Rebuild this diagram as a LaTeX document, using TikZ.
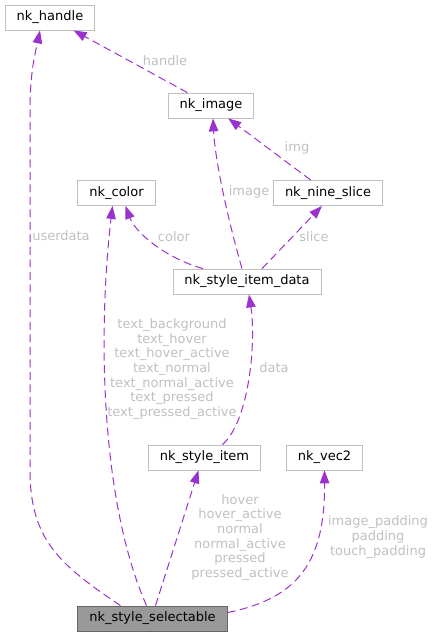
\documentclass[tikz,border=0pt]{standalone}
\usepackage{fontspec}
\setmainfont{DejaVu Sans}
\usetikzlibrary{arrows.meta}
\definecolor{edgePurple}{HTML}{9A32CD}
\definecolor{boxGrey}{HTML}{BFBFBF}
\definecolor{lblGrey}{HTML}{C0C0C0}
\definecolor{focusFill}{HTML}{999999}
\definecolor{focusLine}{HTML}{666666}

\begin{document}
\begin{tikzpicture}[
    x=1pt,y=-1pt,
    box/.style={draw=boxGrey,fill=white,line width=0.8pt,minimum height=25pt,inner xsep=11.5pt,font=\fontsize{13}{15}\selectfont},
    focus/.style={box,draw=focusLine,fill=focusFill},
    lbl/.style={text=lblGrey,align=center,inner sep=0pt,font=\fontsize{13}{14.7}\selectfont},
    arrow/.style={edgePurple,line width=1pt,dash pattern=on 8pt off 4.5pt,-{Triangle[length=13pt,width=9.5pt]}}
  ]
    \useasboundingbox (0,0) rectangle (435,637);
    % classes
    \node[box] (handle) at (50,17.5) {nk\_handle};
    \node[box] (image) at (211,105.5) {nk\_image};
    \node[box] (color) at (116.5,193) {nk\_color};
    \node[box] (nineslice) at (328,193) {nk\_nine\_slice};
    \node[box] (itemdata) at (247,281.5) {nk\_style\_item\_data};
    \node[box] (item) at (204.5,457.5) {nk\_style\_item};
    \node[box] (vec) at (324.5,457.5) {nk\_vec2};
    \node[focus] (selectable) at (152.5,618.5) {nk\_style\_selectable};
    % members
    \draw[arrow] (image) -- (handle);
    \draw[arrow] (nineslice) -- (image);
    \draw[arrow] ([xshift=-5pt]itemdata.north) .. controls (228,220) and (215,160) .. ([xshift=2pt]image.south);
    \draw[arrow] ([xshift=-44pt]itemdata.north) .. controls (165,258) and (135,232) .. ([xshift=9pt]color.south);
    \draw[arrow] ([xshift=15pt]itemdata.north) -- ([xshift=-6pt]nineslice.south);
    \draw[arrow] ([xshift=18pt]item.north) .. controls (250,420) and (256,340) .. ([xshift=2pt]itemdata.south);
    \draw[arrow] ([xshift=-32pt]selectable.north) .. controls (60,565) and (30,540) .. (30,470)
      -- (30,110) .. controls (30,70) and (36,50) .. ([xshift=-10pt]handle.south);
    \draw[arrow] ([xshift=-6pt]selectable.north) .. controls (100,500) and (98,330) .. ([xshift=-4pt]color.south);
    \draw[arrow] ([xshift=3pt]selectable.north) -- ([xshift=-6pt]item.south);
    \draw[arrow] ([yshift=6pt]selectable.east) .. controls (300,598) and (325,560) .. (vec.south);
    % labels
    \node[lbl] (lhandle) at (165,61) {handle};
    \node[lbl] (limg) at (297,148) {img};
    \node[lbl] (limage) at (249,192) {image};
    \node[lbl] (lcolor) at (174,237) {color};
    \node[lbl] (lslice) at (314,237) {slice};
    \node[lbl] (ldata) at (274,368) {data};
    \node[lbl] (luserdata) at (61,236) {userdata};
    \node[lbl] (ltext) at (172,369) {text\_background\\text\_hover\\text\_hover\_active\\text\_normal\\text\_normal\_active\\text\_pressed\\text\_pressed\_active};
    \node[lbl] (lstate) at (240,537.5) {hover\\hover\_active\\normal\\normal\_active\\pressed\\pressed\_active};
    \node[lbl] (lpadding) at (378,537) {image\_padding\\padding\\touch\_padding};
\end{tikzpicture}
\end{document}
